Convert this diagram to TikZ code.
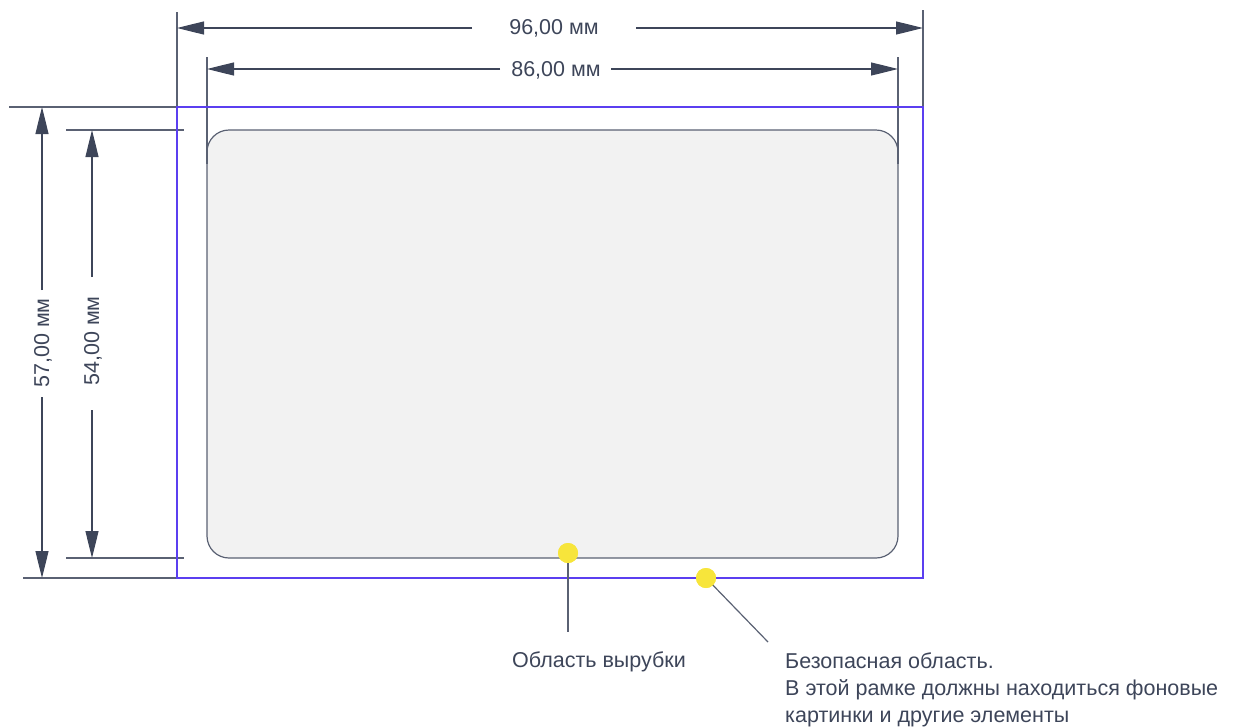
\documentclass[tikz,border=0pt]{standalone}
\usepackage{fontspec}
\setmainfont{Liberation Sans}
\usetikzlibrary{arrows.meta}
\definecolor{ink}{HTML}{3D4559}
\definecolor{lineg}{HTML}{5A6173}
\definecolor{frameb}{HTML}{5B3FF0}
\definecolor{cardf}{HTML}{F2F2F2}
\definecolor{dotc}{HTML}{F7E53B}
\tikzset{
  dim/.style={draw=ink, line width=1.2pt, -{Triangle[length=27pt,width=13pt]}},
  ext/.style={draw=lineg, line width=1.2pt},
  lbl/.style={text=ink, font=\fontsize{21.5}{27}\selectfont, inner sep=0pt},
  dot/.style={circle, fill=dotc, minimum size=20pt, inner sep=0pt},
}
\begin{document}
\begin{tikzpicture}[x=1pt,y=-1pt]
\useasboundingbox (0,0) rectangle (1239,726);
% card
\draw[fill=cardf, draw=lineg, line width=1.2pt, rounded corners=22pt] (207,130) rectangle (898,558);
% extension lines
\draw[ext] (177,12) -- (177,128);
\draw[ext] (923,10) -- (923,125);
\draw[ext] (207,57) -- (207,164);
\draw[ext] (898,57) -- (898,164);
\draw[ext] (9,107) -- (177,107);
\draw[ext] (23,578) -- (177,578);
\draw[ext] (66,130) -- (184,130);
\draw[ext] (66,558) -- (184,558);
% safe frame
\draw[draw=frameb, line width=1.4pt] (177,107) rectangle (923,578);
% dimension labels
\node[lbl] (w96) at (554,28) {96,00 мм};
\node[lbl] (w86) at (556,70) {86,00 мм};
\node[lbl, rotate=90] (h57) at (43,343) {57,00 мм};
\node[lbl, rotate=90] (h54) at (93,341) {54,00 мм};
\coordinate (a1) at (177,28); \coordinate (a2) at (923,28);
\coordinate (b1) at (207,69); \coordinate (b2) at (898,69);
\coordinate (c1) at (42,107); \coordinate (c2) at (42,578);
\coordinate (d1) at (92,130); \coordinate (d2) at (92,558);
\draw[dim] (472,28) -- (a1);
\draw[dim] (636,28) -- (a2);
\draw[dim] (500,69) -- (b1);
\draw[dim] (611,69) -- (b2);
\draw[dim] (42,290) -- (c1);
\draw[dim] (42,397) -- (c2);
\draw[dim] (92,277) -- (d1);
\draw[dim] (92,410) -- (d2);
% callouts
\node[dot] (p1) at (568,553) {};
\node[dot] (p2) at (706,578) {};
\coordinate (q1) at (568,632);
\coordinate (q2) at (768,642);
\draw[ext] (p1.center) -- (q1);
\draw[ext] (p2.center) -- (q2);
\node[dot] at (568,553) {};
\node[dot] at (706,578) {};
\node[lbl, anchor=base west] (t1) at (512,667) {Область вырубки};
\node[lbl, anchor=base west] (t2a) at (785,668) {Безопасная область.};
\node[lbl, anchor=base west] (t2b) at (785,695) {В этой рамке должны находиться фоновые};
\node[lbl, anchor=base west] (t2c) at (785,722) {картинки и другие элементы};
\end{tikzpicture}
\end{document}
